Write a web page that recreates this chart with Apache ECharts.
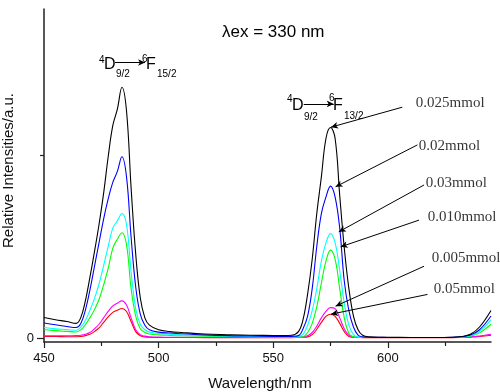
<!DOCTYPE html>
<html><head><meta charset="utf-8">
<script src="https://cdn.jsdelivr.net/npm/echarts@6/dist/echarts.min.js"></script>
<style>html,body{margin:0;padding:0;background:#fff}#c{width:500px;height:392px}</style>
</head><body><div id="c"></div>
<script>
// ---- data ----
const wavelengths = [450,455,460,464,466,468,470,472,474,476,478,480,482,484,486,488,490,492,494,496,
  500,505,510,520,530,540,550,
  555,558,561,563,565,567,569,571,573,575,577,579,581,583,585,587,589,
  592,596,600,610,620,628,632,636,640,645];

const black0025 = [0.112,0.100,0.090,0.080,0.110,0.200,0.330,0.470,0.620,0.790,0.990,1.160,1.250,1.370,1.240,0.820,0.460,0.220,0.110,0.070,
  0.045,0.035,0.030,0.022,0.018,0.015,0.014,
  0.013,0.015,0.035,0.100,0.240,0.430,0.680,0.880,1.090,1.150,1.090,0.780,0.490,0.270,0.120,0.045,0.015,
  0.006,0.004,0.004,0.003,0.003,0.004,0.008,0.020,0.060,0.150];

const blue002 = [0.082,0.072,0.063,0.057,0.078,0.150,0.260,0.390,0.520,0.650,0.760,0.850,0.910,0.990,0.880,0.550,0.280,0.130,0.070,0.045,
  0.032,0.027,0.023,0.017,0.013,0.011,0.009,
  0.008,0.009,0.013,0.050,0.120,0.270,0.500,0.680,0.770,0.830,0.770,0.600,0.310,0.150,0.060,0.015,0.006,
  0.004,0.004,0.003,0.003,0.003,0.004,0.007,0.016,0.045,0.120];

const cyan003 = [0.057,0.050,0.046,0.042,0.058,0.095,0.150,0.215,0.295,0.395,0.500,0.600,0.640,0.680,0.620,0.360,0.160,0.075,0.045,0.032,
  0.025,0.020,0.017,0.013,0.010,0.008,0.007,
  0.006,0.006,0.009,0.020,0.070,0.150,0.270,0.420,0.520,0.570,0.520,0.370,0.190,0.070,0.018,0.006,0.004,
  0.003,0.003,0.003,0.003,0.003,0.003,0.006,0.013,0.035,0.100];

const green0010 = [0.046,0.040,0.036,0.033,0.044,0.072,0.110,0.155,0.210,0.290,0.380,0.490,0.540,0.575,0.510,0.270,0.120,0.050,0.030,0.022,
  0.017,0.014,0.012,0.010,0.008,0.006,0.005,
  0.005,0.005,0.005,0.006,0.030,0.080,0.170,0.300,0.420,0.480,0.430,0.270,0.110,0.025,0.006,0.004,0.003,
  0.003,0.003,0.003,0.003,0.003,0.003,0.005,0.010,0.028,0.075];

const magenta0005 = [0.012,0.012,0.012,0.013,0.015,0.020,0.030,0.050,0.075,0.110,0.145,0.175,0.190,0.203,0.180,0.110,0.045,0.018,0.010,0.007,
  0.005,0.004,0.004,0.003,0.003,0.003,0.003,
  0.003,0.003,0.004,0.006,0.012,0.030,0.065,0.110,0.145,0.166,0.160,0.110,0.050,0.015,0.006,0.004,0.003,
  0.003,0.003,0.003,0.003,0.003,0.003,0.004,0.006,0.010,0.020];

const red005 = [0.008,0.008,0.007,0.007,0.009,0.013,0.020,0.035,0.055,0.085,0.115,0.140,0.152,0.161,0.145,0.090,0.035,0.012,0.006,0.004,
  0.003,0.003,0.003,0.002,0.002,0.002,0.002,
  0.002,0.002,0.003,0.004,0.006,0.018,0.048,0.085,0.118,0.130,0.118,0.080,0.035,0.008,0.004,0.003,0.002,
  0.002,0.002,0.002,0.002,0.002,0.002,0.003,0.005,0.008,0.015];

const xTickValues = [450, 500, 550, 600];
const xMinorTickValues = [475, 525, 575, 625];
const yTickValues = [0];
const yMinorTickValues = [1];

// annotation labels (series name, anchor at label's left-middle in data units)
const annotationNames = ['0.025mmol','0.02mmol','0.03mmol','0.010mmol','0.005mmol','0.05mmol'];
const annotationAnchors = [[612.2,1.285],[613.5,1.051],[616.5,0.848],[617.4,0.662],[619.1,0.435],[620.0,0.265]];
// arrows: [fromX, fromY, toX, toY] in data units
const annotationArrows = [
  [606.3,1.261,575.2,1.152],
  [612.9,1.055,577.2,0.826],
  [615.8,0.836,578.6,0.580],
  [613.6,0.644,579.4,0.498],
  [615.8,0.392,577.2,0.174],
  [617.3,0.238,575.2,0.130]
];
const transitionArrows = [
  [481.0,1.505,494.1,1.505],
  [563.3,1.279,576.4,1.279]
];

// ---- chart ----
const chart = echarts.init(document.getElementById('c'), null, {renderer:'canvas'});
const toPairs = arr => wavelengths.map((w, i) => [w, arr[i]]);
const axisColor = '#222';
const sans = 'Liberation Sans, Arial, sans-serif';
const serif = 'Liberation Serif, Times New Roman, serif';

const seriesDefs = [
  {name:'0.05mmol', data:red005, color:'#ff0000'},
  {name:'0.005mmol', data:magenta0005, color:'#ff00ff'},
  {name:'0.010mmol', data:green0010, color:'#00ff00'},
  {name:'0.03mmol', data:cyan003, color:'#00ffff'},
  {name:'0.02mmol', data:blue002, color:'#0000ff'},
  {name:'0.025mmol', data:black0025, color:'#000000'}
];

const lineSeries = seriesDefs.map(s => ({
  type:'line', name:s.name, data:toPairs(s.data), showSymbol:false, symbol:'none',
  smooth:0.4,
  lineStyle:{color:s.color, width:1.1}, itemStyle:{color:s.color},
  silent:true, animation:false, z:2
}));

const arrowLines = annotationArrows.concat(transitionArrows).map(a => [
  {coord:[a[0], a[1]], symbol:'none'},
  {coord:[a[2], a[3]], symbol:'arrow', symbolSize:[5,7]}
]);

const annotationSeries = {
  type:'scatter', name:'annotations', symbolSize:0, silent:true, animation:false,
  data: annotationAnchors.map((p, i) => ({name:annotationNames[i], value:p})),
  label:{show:true, position:'right', distance:0, formatter:'{b}',
    fontFamily:serif, fontSize:15, color:'#000'},
  markLine:{silent:true, animation:false, symbol:['none','arrow'],
    lineStyle:{color:'#000', width:1, type:'solid'}, label:{show:false},
    emphasis:{disabled:true}, data:arrowLines},
  z:5
};

function txt(text, x, y, size, family) {
  return {type:'text', x:x, y:y, silent:true,
    style:{text:text, fontSize:size, fontFamily:family||sans, fill:'#000',
      textAlign:'left', textVerticalAlign:'middle', align:'left', verticalAlign:'middle'}};
}

const commonY = {type:'value', min:-0.0219, max:1.7975, splitLine:{show:false}};
const commonX = {type:'value', min:450, max:645, splitLine:{show:false}};

chart.setOption({
  animation:false,
  backgroundColor:'#fff',
  grid:{left:44, right:9, top:9, bottom:50, outerBoundsMode:'none'},
  xAxis:[
    Object.assign({}, commonX, {
      position:'bottom',
      axisLine:{show:true, onZero:false, lineStyle:{color:axisColor, width:1.5}},
      axisTick:{show:true, customValues:xTickValues, length:6, lineStyle:{color:axisColor, width:1.2}},
      axisLabel:{customValues:xTickValues, margin:10, fontSize:13, fontFamily:sans, color:'#111'},
      name:'Wavelength/nm', nameLocation:'middle', nameGap:34,
      nameTextStyle:{fontSize:15, fontFamily:sans, color:'#111', padding:[0,15,0,0]}
    }),
    Object.assign({}, commonX, {
      position:'bottom',
      axisLine:{show:false, onZero:false},
      axisTick:{show:true, customValues:xMinorTickValues, length:4, lineStyle:{color:axisColor, width:1.2}},
      axisLabel:{show:false}
    })
  ],
  yAxis:[
    Object.assign({}, commonY, {
      position:'left',
      axisLine:{show:true, onZero:false, lineStyle:{color:axisColor, width:1.5}},
      axisTick:{show:true, customValues:yTickValues, length:7, lineStyle:{color:axisColor, width:1.2}},
      axisLabel:{customValues:yTickValues, margin:10, fontSize:13, fontFamily:sans, color:'#111'},
      name:'Relative Intensities/a.u.', nameLocation:'middle', nameGap:17,
      nameTextStyle:{fontSize:15, fontFamily:sans, color:'#111', padding:[0,0,0,10]}
    }),
    Object.assign({}, commonY, {
      position:'left',
      axisLine:{show:false, onZero:false},
      axisTick:{show:true, customValues:yMinorTickValues, length:4, lineStyle:{color:axisColor, width:1.2}},
      axisLabel:{show:false}
    })
  ],
  series: lineSeries.concat([annotationSeries]),
  graphic:[
    txt('\u03BBex = 330 nm', 222, 32, 17),
    txt('4', 99, 60, 10), txt('D', 104, 65, 16), txt('9/2', 116, 74, 10),
    txt('6', 142, 59, 10), txt('F', 146, 65, 16), txt('15/2', 157, 74, 10),
    txt('4', 287, 99, 10), txt('D', 292, 106, 16), txt('9/2', 304, 117, 10),
    txt('6', 329, 98, 10), txt('F', 333, 106, 16), txt('13/2', 344, 116, 10)
  ]
});
</script></body></html>
